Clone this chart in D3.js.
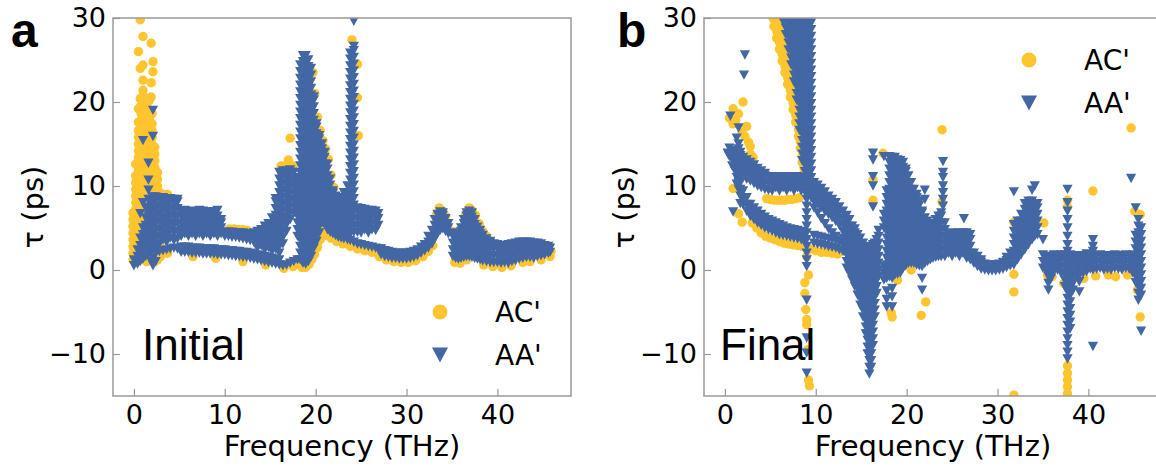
<!DOCTYPE html>
<html>
<head>
<meta charset="utf-8">
<script src="https://cdn.jsdelivr.net/npm/d3@7"></script>
<style>
  html, body { margin: 0; padding: 0; background: #fff; }
  svg { display: block; }
</style>
</head>
<body>
<svg id="chart" width="1156" height="470"></svg>
<script>
// Phonon lifetime τ (ps) versus frequency (THz).
// Each row is [frequency, τ1, τ2, ...]: every τ listed is one mode at that frequency.

const freqTicks = [0, 10, 20, 30, 40];
const tauTicks = [-10, 0, 10, 20, 30];
const seriesNames = ["AC'", "AA'"];
const panelTags = ["a", "b"];
const panelTitles = ["Initial", "Final"];

// ---- Initial structure, AC' ----
const acInitial = [
  [-0.1, 1.2, 2.0, 2.8, 3.6, 4.4, 5.2, 6.0, 6.8],
  [0.2, 1.6, 2.4, 3.2, 4.0, 4.8, 5.6, 6.4, 7.2, 8.0, 8.8, 9.6, 10.4, 11.2, 12.6],
  [0.5, 2.2, 3.0, 3.8, 4.6, 5.4, 6.2, 7.0, 7.8, 8.6, 9.4, 10.2, 11.0, 11.8, 12.6, 13.4, 14.2, 15.0, 15.8, 16.6, 17.6, 19.2, 26.0],
  [0.7, 29.8, 24.0, 20.4],
  [0.8, 2.6, 3.4, 4.2, 5.0, 5.8, 6.6, 7.4, 8.2, 9.0, 9.8, 10.6, 11.4, 12.2, 13.0, 13.8, 14.6, 15.4, 16.2, 17.0, 17.8, 18.6, 19.6, 20.5],
  [1.0, 27.8, 24.4, 22.6, 21.4],
  [1.1, 1.2, 2.0, 2.8, 3.6, 4.4, 5.2, 6.0, 6.8, 7.6, 8.4, 9.2, 10.0, 10.8, 11.6, 12.4, 13.2, 14.0, 14.8, 15.6, 16.4, 17.2, 18.0, 18.8, 19.8, 20.6],
  [1.4, 1.0, 1.8, 2.6, 3.4, 4.2, 5.0, 5.8, 6.6, 7.4, 8.2, 9.0, 9.8, 10.6, 11.4, 12.2, 13.0, 13.8, 14.6, 15.4, 16.2, 17.0, 17.8, 18.6, 19.6, 20.4],
  [1.7, 1.2, 2.0, 2.8, 3.6, 4.4, 5.2, 6.0, 6.8, 7.6, 8.4, 9.2, 10.0, 10.8, 11.6, 12.4, 13.2, 14.0, 14.8, 15.6, 16.4, 17.2, 18.0, 19.0, 20.2],
  [1.9, 27.0, 22.3, 20.6],
  [2.0, 1.4, 2.2, 3.0, 3.8, 4.6, 5.4, 6.2, 7.0, 7.8, 8.6, 9.4, 10.2, 11.0, 11.8, 12.6, 13.4, 14.2, 15.0, 15.8, 16.6, 17.4, 18.6],
  [2.1, 24.8, 23.6],
  [2.3, 1.0, 1.8, 2.6, 3.4, 4.2, 5.0, 5.8, 6.6, 7.4, 8.2, 9.0, 9.8, 10.6, 11.4, 12.2, 13.0, 13.8, 14.6],
  [2.6, 1.2, 2.0, 2.8, 3.6, 4.4, 5.2, 6.0, 6.8, 7.6, 8.4, 9.2, 10.0, 10.8, 11.6],
  [2.9, 1.6, 2.4, 3.2, 4.0, 4.8, 5.6, 6.4, 7.2, 8.0, 8.8, 9.2],
  [3.3, 2.0, 9.0],
  [3.7, 2.0, 9.0],
  [6.5, 1.6], [9.0, 1.4], [12.0, 1.0], [14.5, 0.6], [16.5, 0.2], [17.5, 0.4], [18.2, 0.6],
  [10.5, 4.9], [11.0, 4.9], [11.5, 4.8], [12.0, 4.8], [12.5, 4.7],
  [16.2, 12.4], [16.9, 12.6], [17.0, 13.1], [17.2, 15.7], [17.5, 12.4],
  [19.7, 23.5], [19.9, 21.0], [20.2, 18.2], [20.5, 16.6], [20.8, 15.4], [21.1, 14.4], [21.4, 13.2], [21.7, 11.3], [22.0, 9.8],
  [18.5, 0.3], [18.9, 0.3], [19.3, 0.7], [19.6, 1.3], [19.9, 1.9, 2.4], [20.2, 2.7, 3.2], [20.5, 3.6, 4.1], [20.8, 4.5, 5.2],
  [21.2, 4.1], [21.7, 3.8], [22.3, 3.4], [23.0, 3.1], [23.8, 2.8], [24.6, 2.5], [25.4, 2.3], [26.2, 2.1],
  [27.0, 1.6], [27.8, 1.2], [28.6, 1.0], [29.4, 0.9], [30.2, 0.9], [31.0, 1.1], [31.8, 1.6], [32.4, 2.2], [32.9, 2.9],
  [24.0, 27.4], [24.6, 24.5], [24.6, 20.5], [24.7, 16.0],
  [33.3, 6.6], [33.6, 7.4], [33.9, 7.1], [34.3, 6.4],
  [35.0, 4.6], [35.3, 4.5],
  [36.5, 6.6], [36.9, 7.4], [37.2, 7.1], [37.6, 6.5], [38.0, 5.5], [38.4, 4.6], [38.8, 4.0],
  [35.3, 0.9], [35.9, 0.8], [36.6, 1.2], [38.5, 0.6], [39.5, 0.4], [40.5, 0.3], [41.5, 0.5], [42.8, 0.9], [43.6, 1.0], [44.8, 1.2], [45.8, 1.6], [45.9, 2.2]
];

// ---- Initial structure, AA' ----
const aaInitial = [
  [0.0, 0.5, 1.2],
  [0.4, 0.7, 1.6, 2.4],
  [0.7, 1.0, 2.0, 2.9, 3.8, 6.7],
  [1.0, 1.3, 2.4, 3.3, 4.2, 5.0, 8.0, 15.4],
  [1.3, 1.6, 2.6, 3.5, 4.4, 5.3, 6.2, 7.4],
  [1.6, 1.9, 2.9, 3.8, 4.7, 5.6, 6.5, 7.4, 8.4, 9.5, 10.7, 12.7],
  [1.9, 1.0, 2.2, 3.1, 4.0, 4.9, 5.8, 6.7, 7.6, 8.4],
  [2.1, 0.5, 1.4, 2.4, 3.3, 4.2, 5.1, 6.0, 6.9, 7.8, 8.7, 15.9, 19.0],
  [2.4, 1.0, 2.0, 2.9, 3.8, 4.7, 5.6, 6.5, 7.4, 8.3, 8.7],
  [2.8, 2.2, 3.1, 4.0, 4.9, 5.8, 6.7, 7.6, 8.5],
  [3.2, 2.3, 3.6, 4.5, 5.4, 6.3, 7.2, 8.1, 8.6],
  [3.6, 2.4, 3.3, 4.2, 5.1, 6.0, 6.9, 7.8, 8.5],
  [4.0, 2.5, 3.8, 4.7, 5.6, 6.5, 7.4, 8.3, 8.5],
  [4.4, 2.6, 3.5, 4.4, 5.3, 6.2, 7.1, 8.0, 8.4],
  [4.8, 2.5, 3.7, 4.6, 5.5, 6.4, 7.3, 8.1, 8.4],
  [5.2, 2.1, 2.7, 4.0, 4.8, 5.6, 6.4, 7.0],
  [5.6, 2.1, 2.7, 4.3, 5.1, 5.9, 6.7, 7.1],
  [6.0, 2.1, 2.7, 4.0, 4.8, 5.6, 6.4, 6.9],
  [6.4, 2.0, 2.6, 4.3, 5.1, 5.9, 6.7, 7.0],
  [6.8, 2.0, 2.6, 4.0, 4.8, 5.6, 6.4, 6.9],
  [7.2, 2.0, 2.6, 4.3, 5.1, 5.9, 6.7, 7.1],
  [7.6, 1.9, 2.5, 4.0, 4.8, 5.6, 6.4, 7.0],
  [8.0, 1.9, 2.5, 4.3, 5.1, 5.9, 6.7, 6.9],
  [8.4, 1.9, 2.5, 4.0, 4.8, 5.6, 6.4, 6.9],
  [8.8, 1.9, 2.5, 4.3, 5.1, 5.9, 6.7, 6.9],
  [9.2, 1.8, 2.4, 4.0, 4.8, 5.6, 6.4, 7.1],
  [9.6, 1.8, 2.4, 4.3, 5.0, 5.6, 6.0],
  [10.0, 1.8, 2.4, 4.0, 4.5],
  [10.4, 1.7, 2.3, 4.0, 4.5],
  [10.8, 1.7, 2.3, 3.9, 4.5],
  [11.2, 1.6, 2.2, 3.9, 4.4],
  [11.6, 1.6, 2.2, 3.8, 4.4],
  [12.0, 1.5, 2.1, 3.7, 4.4],
  [12.4, 1.5, 2.1, 3.6, 4.3],
  [12.8, 1.4, 2.0, 3.5, 4.3],
  [13.2, 1.3, 1.9, 3.3, 4.1, 4.4],
  [13.6, 1.2, 1.8, 2.6, 3.4, 4.2, 4.6],
  [14.0, 1.1, 1.7, 2.9, 3.7, 4.5, 4.8],
  [14.4, 1.0, 1.6, 2.4, 3.2, 4.0, 4.8, 5.2],
  [14.8, 0.9, 1.5, 2.7, 3.5, 4.3, 5.1, 5.5],
  [15.2, 0.8, 1.4, 2.2, 3.0, 3.8, 4.6, 5.4, 6.2],
  [15.6, 0.7, 1.3, 2.5, 3.3, 4.1, 4.9, 5.7, 6.5, 7.3, 8.1, 8.5],
  [16.0, 0.6, 1.2, 2.0, 2.8, 3.6, 4.4, 5.2, 6.0, 6.8, 7.6, 8.4, 9.2, 10.0, 10.8, 11.6],
  [16.4, 0.5, 3.1, 3.9, 4.7, 5.5, 6.3, 7.1, 7.9, 8.7, 9.5, 10.3, 11.1, 11.8],
  [16.8, 0.6, 4.6, 5.4, 6.2, 7.0, 7.8, 8.6, 9.4, 10.2, 11.0, 11.8],
  [17.2, 0.8, 6.0, 6.8, 7.6, 8.4, 9.2, 10.0, 10.8, 11.6, 11.9],
  [17.6, 1.0, 6.8, 7.6, 8.4, 9.2, 10.0, 10.8, 11.6],
  [18.0, 1.2, 4.0, 4.8, 5.6, 6.4, 7.2, 8.0, 8.8, 9.6, 10.4, 11.0],
  [18.3, 1.2, 2.0, 2.8, 3.6, 4.4, 5.2, 6.0, 6.8, 7.6, 8.4, 9.2, 10.0, 10.8, 11.6, 12.4, 13.2, 14.0, 14.8, 15.6, 16.4, 17.2, 18.0, 18.8, 19.6, 20.4, 21.2, 22.0, 22.8, 23.6, 24.4],
  [18.6, 0.8, 1.6, 2.4, 3.2, 4.0, 4.8, 5.6, 6.4, 7.2, 8.0, 8.8, 9.6, 10.4, 11.2, 12.0, 12.8, 13.6, 14.4, 15.2, 16.0, 16.8, 17.6, 18.4, 19.2, 20.0, 20.8, 21.6, 22.4, 23.2, 24.0, 24.8, 25.5],
  [18.9, 0.7, 1.5, 2.3, 3.1, 3.9, 4.7, 5.5, 6.3, 7.1, 7.9, 8.7, 9.5, 10.3, 11.1, 11.9, 12.7, 13.5, 14.3, 15.1, 15.9, 16.7, 17.5, 18.3, 19.1, 19.9, 20.7, 21.5, 22.3, 23.1, 23.9, 24.7, 25.5],
  [19.2, 1.0, 1.8, 2.6, 3.4, 4.2, 5.0, 5.8, 6.6, 7.4, 8.2, 9.0, 9.8, 10.6, 11.4, 12.2, 13.0, 13.8, 14.6, 15.4, 16.2, 17.0, 17.8, 18.6, 19.4, 20.2, 21.0, 21.8, 22.6, 23.4, 24.2, 25.0],
  [19.5, 1.6, 2.4, 3.2, 4.0, 4.8, 5.6, 6.4, 7.2, 8.0, 8.8, 9.6, 10.4, 11.2, 12.0, 12.8, 13.6, 14.4, 15.2, 16.0, 16.8, 17.6, 18.4, 19.2, 20.0, 20.8, 21.6, 22.4, 23.2, 24.0],
  [19.8, 2.6, 3.4, 4.2, 5.0, 5.8, 6.6, 7.4, 8.2, 9.0, 9.8, 10.6, 11.4, 12.2, 13.0, 13.8, 14.6, 15.4, 16.2, 17.0, 17.8, 18.6, 19.4, 20.2, 20.6],
  [20.1, 3.4, 4.2, 5.0, 5.8, 6.6, 7.4, 8.2, 9.0, 9.8, 10.6, 11.4, 12.2, 13.0, 13.8, 14.6, 15.4, 16.2, 17.0, 17.4],
  [20.4, 4.4, 5.2, 6.0, 6.8, 7.6, 8.4, 9.2, 10.0, 10.8, 11.6, 12.4, 13.2, 14.0, 14.8, 15.6, 16.0],
  [20.7, 5.6, 6.4, 7.2, 8.0, 8.8, 9.6, 10.4, 11.2, 12.0, 12.8, 13.6, 14.4, 15.0],
  [21.0, 5.4, 6.2, 7.0, 7.8, 8.6, 9.4, 10.2, 11.0, 11.8, 12.6, 13.4, 14.0],
  [21.3, 4.8, 5.6, 6.4, 7.2, 8.0, 8.8, 9.6, 10.4, 11.2, 12.0, 12.6],
  [21.6, 4.5, 5.3, 6.1, 6.9, 7.7, 8.5, 9.3, 10.1, 10.8],
  [21.9, 4.3, 5.1, 5.9, 6.7, 7.5, 8.3, 9.1, 9.4],
  [22.2, 4.1, 4.9, 5.7, 6.5, 7.3, 8.1, 8.8],
  [22.5, 3.9, 4.7, 5.5, 6.3, 7.1, 7.9, 8.6],
  [22.8, 3.8, 4.6, 5.4, 6.2, 7.0, 7.8, 8.6],
  [23.1, 3.7, 4.5, 5.3, 6.1, 6.9, 7.7, 8.5, 9.2],
  [23.5, 3.6, 4.4, 5.2, 6.0, 6.8, 7.6, 8.4, 9.2, 10.0],
  [23.8, 3.5, 4.3, 5.1, 5.9, 6.7, 7.5, 8.3, 9.1, 9.9, 10.7, 11.5, 12.3, 13.1, 13.9, 14.7, 15.5, 16.3, 17.1, 17.9, 18.7, 19.5, 20.3, 21.1, 21.9, 22.7, 23.5, 24.3, 25.1, 25.8],
  [24.2, 3.3, 4.5, 5.3, 6.1, 6.9, 7.7, 8.5, 9.3, 10.1, 10.9, 11.7, 12.5, 13.3, 14.1, 14.9, 15.7, 16.5, 17.3, 18.1, 18.9, 19.7, 20.5, 21.3, 22.1, 22.9, 23.7, 24.5, 25.3, 26.1, 26.6, 29.6],
  [24.6, 3.1, 4.5, 5.3, 6.1, 6.9, 7.4],
  [25.0, 3.0, 4.4, 5.2, 6.0, 6.8, 7.3],
  [25.4, 2.9, 4.8, 5.6, 6.4, 7.2],
  [25.8, 2.8, 4.4, 5.2, 6.0, 6.8, 7.1],
  [26.2, 2.7, 4.8, 5.6, 6.4, 7.1],
  [26.6, 2.6, 4.7, 5.5, 6.3, 7.0],
  [26.9, 2.5, 5.3, 6.1, 6.7],
  [27.2, 1.8, 2.5],
  [27.6, 1.6, 2.3],
  [28.0, 1.5, 2.2],
  [28.4, 1.4, 2.1],
  [28.8, 1.4, 2.0],
  [29.2, 1.3, 2.0],
  [29.6, 1.3, 2.0],
  [30.0, 1.3, 2.0],
  [30.4, 1.4, 2.1],
  [30.8, 1.5, 2.2],
  [31.2, 1.7, 2.4],
  [31.6, 2.0, 2.7],
  [32.0, 2.3, 3.0],
  [32.4, 2.6, 3.3, 4.0],
  [32.8, 3.1, 3.9, 4.7],
  [33.1, 3.7, 4.5, 5.3, 6.0],
  [33.4, 4.3, 5.1, 5.9, 6.6],
  [33.7, 4.7, 5.5, 6.3, 6.9],
  [34.0, 4.9, 5.7, 6.5, 6.8],
  [34.3, 4.6, 5.4, 6.1],
  [34.6, 4.3, 5.0, 5.5],
  [35.1, 1.6, 2.4, 3.2, 4.0, 4.4],
  [35.4, 1.4, 2.2, 3.0, 3.8, 4.2],
  [35.7, 1.3, 2.1, 2.9, 3.7, 4.0],
  [36.0, 1.4, 2.2, 3.0, 3.8, 4.6, 5.0],
  [36.3, 1.5, 2.3, 3.1, 3.9, 4.7, 5.5, 6.0],
  [36.6, 1.6, 2.4, 3.2, 4.0, 4.8, 5.6, 6.4, 6.8],
  [36.9, 1.6, 2.4, 3.2, 4.0, 4.8, 5.6, 6.4, 7.0],
  [37.2, 1.5, 2.3, 3.1, 3.9, 4.7, 5.5, 6.3, 6.8],
  [37.5, 1.4, 2.2, 3.0, 3.8, 4.6, 5.4, 6.0],
  [37.8, 1.3, 2.1, 2.9, 3.7, 4.5, 5.1],
  [38.1, 1.2, 2.0, 2.8, 3.6, 4.3, 4.7],
  [38.4, 1.1, 1.9, 2.7, 3.5, 4.1],
  [38.8, 1.0, 1.8, 2.6, 3.4, 3.7],
  [39.2, 0.9, 1.7, 2.5, 3.2, 3.4],
  [39.6, 0.9, 1.7, 2.5, 3.1],
  [40.0, 0.9, 1.7, 2.5, 3.0],
  [40.4, 0.8, 1.6, 2.4, 2.9],
  [40.8, 0.9, 1.7, 2.5, 2.9],
  [41.2, 0.8, 1.6, 2.4, 3.0],
  [41.6, 1.0, 1.8, 2.6, 3.1],
  [42.0, 1.1, 1.9, 2.7, 3.2],
  [42.4, 1.3, 2.1, 2.8, 3.3],
  [42.8, 1.4, 2.1, 2.8, 3.3],
  [43.2, 1.5, 2.2, 2.8, 3.3],
  [43.6, 1.5, 2.2, 2.8, 3.3],
  [44.0, 1.4, 2.1, 2.7, 3.2],
  [44.4, 1.6, 2.2, 2.8, 3.2],
  [44.8, 1.7, 2.3, 2.8, 3.1],
  [45.2, 1.8, 2.4, 2.9],
  [45.6, 2.0, 2.5, 2.8],
  [45.8, 2.1, 2.6]
];

// ---- Final structure, AC' ----
const acFinal = [
  [0.5, 18.1], [0.9, 19.2, 17.4, 9.7], [1.2, 17.8], [1.5, 18.6, 10.7, 6.7], [1.9, 5.7, 16.4],
  [2.0, 20.0], [2.2, 15.9], [2.4, 17.1], [2.6, 15.2], [2.8, 14.7, 13.8], [3.1, 13.4],
  [4.6, 8.5], [5.0, 8.4], [5.4, 8.3], [5.8, 8.3], [6.2, 8.3], [6.6, 8.3], [7.0, 8.4], [7.4, 8.4], [7.8, 8.5], [8.2, 8.6],
  [3.0, 5.6], [3.5, 5.0], [4.0, 4.4], [4.5, 4.0], [5.0, 3.8], [5.5, 3.6], [6.0, 3.4], [6.5, 3.2], [7.0, 3.1], [7.5, 3.0],
  [8.0, 2.9], [8.5, 2.8], [9.4, 2.5], [10.0, 2.3], [10.6, 2.1], [11.2, 2.1], [11.8, 2.0], [12.4, 1.9],
  [5.2, 30.2],
  [5.4, 29.0, 29.8, 30.6],
  [5.7, 27.6, 28.4, 29.2, 30.0],
  [6.0, 26.3, 27.1, 27.9, 28.7, 29.5, 30.3],
  [6.3, 24.9, 25.7, 26.5, 27.3, 28.1, 28.9],
  [6.6, 23.5, 24.3, 25.1, 25.9, 26.7, 27.5],
  [6.9, 22.1, 22.9, 23.7, 24.5, 25.3, 26.1],
  [7.2, 20.6, 21.4, 22.2, 23.0, 23.8],
  [7.5, 19.1, 19.9, 20.7, 21.5, 22.3],
  [7.8, 17.6, 18.4, 19.2, 20.0],
  [8.1, 15.9, 16.7, 17.5],
  [8.3, 14.5, 15.3, 16.1],
  [8.5, 12.8, 13.6],
  [8.7, 11.6, 12.2],
  [8.8, -2.8, -1.5], [8.9, -4.7], [9.0, -5.9, -6.5, 1.6], [9.1, -9.5], [9.2, -13.1, -0.6], [9.3, -13.8],
  [16.3, 10.7, 8.3], [17.4, 13.9], [18.3, -5.1], [18.4, -5.6], [19.0, -1.2], [20.5, 0.0],
  [21.6, -5.4], [22.1, -3.8], [23.9, 16.7, 8.1],
  [31.8, 5.7, -0.5, -2.6, -14.9], [35.1, 5.6], [35.5, -0.6],
  [37.7, 8.3, 7.5, -11.4, -12.3, -13.1, -13.9, -14.7],
  [40.5, 9.4], [44.7, 16.9], [45.1, 7.0], [45.7, -5.6, 6.6],
  [36.0, -0.8], [37.3, -1.6], [39.5, -1.0], [40.8, -0.7], [42.2, -0.6], [43.0, -0.8], [44.3, -0.6], [45.4, -2.4]
];

// ---- Final structure, AA' ----
const aaFinal = [
  [0.3, 13.9],
  [0.5, 13.5, 14.5],
  [0.6, 18.3],
  [0.8, 12.4, 13.2, 14.0],
  [0.9, 6.9],
  [1.1, 11.8, 12.6, 13.4, 14.2],
  [1.3, 10.2, 11.0, 11.8, 12.6, 13.4, 14.2, 15.7],
  [1.5, 9.6, 10.4, 11.2, 12.0, 12.8, 13.6, 14.4, 15.0, 16.9],
  [1.7, 7.9, 8.8, 9.6, 10.4, 11.2, 12.0, 12.8, 13.6, 14.0],
  [2.0, 7.8, 8.6, 9.4, 11.0, 11.8, 12.6, 13.4],
  [2.1, 23.2],
  [2.2, 25.6],
  [2.4, 7.0, 7.8, 8.6, 10.8, 11.6, 12.4, 13.1],
  [2.8, 6.4, 7.2, 7.8, 10.6, 11.4, 12.2, 12.8],
  [3.2, 6.0, 6.8, 7.4, 10.3, 11.1, 11.9, 12.5],
  [3.6, 5.6, 6.4, 7.0, 10.0, 10.8, 11.6, 12.1],
  [4.0, 5.3, 6.1, 6.6, 9.8, 10.6, 11.4, 11.8],
  [4.4, 5.0, 5.8, 6.3, 9.6, 10.4, 11.2, 11.5],
  [4.8, 4.8, 5.5, 6.0, 9.5, 10.3, 11.1],
  [5.2, 4.6, 5.3, 5.8, 9.4, 10.2, 11.0],
  [5.6, 4.4, 5.1, 5.6, 9.8, 10.6, 11.1],
  [6.0, 4.2, 4.9, 5.4, 9.4, 10.2, 11.0],
  [6.4, 4.1, 4.8, 5.2, 9.8, 10.6, 11.1, 29.6, 30.4],
  [6.7, 28.0, 28.8, 29.6, 30.4],
  [6.8, 4.0, 4.7, 5.0, 9.4, 10.2, 11.0],
  [7.0, 26.2, 27.0, 27.8, 28.6, 29.4, 30.2],
  [7.2, 3.9, 4.6, 4.9, 9.8, 10.6, 11.1],
  [7.3, 24.4, 25.2, 26.0, 26.8, 27.6, 28.4, 29.2, 30.0],
  [7.6, 3.8, 4.5, 4.8, 9.4, 10.2, 11.0, 22.4, 23.2, 24.0, 24.8, 25.6, 26.4, 27.2, 28.0, 28.8, 29.6, 30.4],
  [7.9, 20.2, 21.0, 21.8, 22.6, 23.4, 24.2, 25.0, 25.8, 26.6, 27.4, 28.2, 29.0, 29.8],
  [8.0, 3.7, 4.4, 4.7, 9.8, 10.6, 11.1],
  [8.2, 16.6, 17.4, 18.2, 19.0, 19.8, 20.6, 21.4, 22.2, 23.0, 23.8, 24.6, 25.4, 26.2, 27.0, 27.8, 28.6, 29.4, 30.2],
  [8.4, 3.6, 4.3, 4.6, 9.4, 10.2, 11.0],
  [8.5, 13.0, 13.8, 14.6, 15.4, 16.2, 17.0, 17.8, 18.6, 19.4, 20.2, 21.0, 21.8, 22.6, 23.4, 24.2, 25.0, 25.8, 26.6, 27.4, 28.2, 29.0, 29.8],
  [8.8, 3.5, 4.3, 9.3, 10.1, 10.9, 11.7, 12.5, 13.3, 14.1, 14.9, 15.7, 16.5, 17.3, 18.1, 18.9, 19.7, 20.5, 21.3, 22.1, 22.9, 23.7, 24.5, 25.3, 26.1, 26.9, 27.7, 28.5, 29.3, 30.1],
  [9.0, -12.3, -9.9, -8.1, -3.6, 0.4, 1.2, 2.0, 2.8, 3.6, 4.4, 5.2, 6.0, 6.8, 7.6, 8.4],
  [9.2, 9.0, 9.8, 10.6, 11.4, 12.2, 13.0, 13.8, 14.6, 15.4, 16.2, 17.0, 17.8, 18.6, 19.4, 20.2, 21.0, 21.8, 22.6, 23.4, 24.2, 25.0, 25.8, 26.6, 27.4, 28.2, 29.0, 29.8, 30.5],
  [9.5, 8.6, 9.4, 10.2, 11.0, 11.8, 12.6, 13.4, 14.2, 15.0, 15.8, 16.6, 17.4, 18.2, 19.0, 19.8, 20.6, 21.4, 22.2, 23.0, 23.8, 24.6, 25.4, 26.2, 27.0, 27.8, 28.6, 29.4, 30.2],
  [9.8, 3.2, 4.1, 7.4, 8.2, 9.0, 9.8, 10.4],
  [10.2, 3.1, 4.0, 6.8, 7.8, 8.6, 9.4, 10.1],
  [10.6, 3.0, 3.9, 6.1, 7.4, 8.2, 9.0, 9.7],
  [11.0, 2.9, 3.8, 5.5, 7.0, 7.8, 8.6, 9.3],
  [11.4, 2.8, 3.7, 4.9, 6.6, 7.4, 8.2, 8.8],
  [11.8, 2.7, 3.6, 4.4, 6.2, 7.0, 7.8, 8.4],
  [12.2, 2.6, 3.5, 4.0, 5.8, 6.6, 7.4, 8.0],
  [12.6, 2.4, 3.3, 5.3, 6.1, 6.9, 7.5],
  [13.0, 2.2, 3.0, 3.8, 4.6, 5.4, 6.2, 7.0],
  [13.4, 0.2, 1.0, 1.8, 2.6, 3.4, 4.2, 5.0, 5.8, 6.5],
  [13.7, -0.4, 0.4, 1.2, 2.0, 2.8, 3.6, 4.4, 5.2, 6.0],
  [14.0, -1.2, -0.4, 0.4, 1.2, 2.0, 2.8, 3.6, 4.4, 5.2],
  [14.3, -2.0, -1.2, -0.4, 0.4, 1.2, 2.0, 2.8, 3.6, 4.4, 4.9],
  [14.6, -3.0, -2.2, -1.4, -0.6, 0.2, 1.0, 1.8, 2.6, 3.4, 4.2],
  [14.9, -4.2, -3.4, -2.6, -1.8, -1.0, -0.2, 0.6, 1.4, 2.2, 3.0, 3.8],
  [15.2, -5.6, -4.8, -4.0, -3.2, -2.4, -1.6, -0.8, 0.0, 0.8, 1.6, 2.4, 3.2],
  [15.5, -7.6, -6.8, -6.0, -5.2, -4.4, -3.6, -2.8, -2.0, -1.2, -0.4, 0.4, 1.2, 2.0, 2.8],
  [15.7, -10.0, -9.2, -8.4, -7.6, -6.8, -6.0, -5.2, -4.4, -3.6, -2.8, -2.0, -1.2, -0.4, 0.4, 1.2, 2.0, 2.7],
  [15.9, -12.4, -11.6, -10.8, -10.0, -9.2, -8.4, -7.6, -6.8, -6.0, -5.2, -4.4, -3.6, -2.8, -2.0, -1.2, -0.4, 0.4, 1.2, 2.0, 2.6],
  [16.1, -11.6, -10.8, -10.0, -9.2, -8.4, -7.6, -6.8, -6.0, -5.2, -4.4, -3.6, -2.8, -2.0, -1.2, -0.4, 0.4, 1.2, 2.0, 2.6],
  [16.3, -9.0, -8.2, -7.4, -6.6, -5.8, -5.0, -4.2, -3.4, -2.6, -1.8, -1.0, -0.2, 0.6, 1.4, 2.2, 3.0, 7.5, 10.0, 11.1, 13.1, 13.9],
  [16.5, -5.6, -4.8, -4.0, -3.2, -2.4, -1.6, -0.8, 0.0, 0.8, 1.6, 2.4, 3.2],
  [16.7, -2.8, -2.0, -1.2, -0.4, 0.4, 1.2, 2.0, 2.8, 3.6],
  [16.9, -0.8, 0.0, 0.8, 1.6, 2.4, 3.2, 4.0, 4.7],
  [17.5, -1.2, -0.4, 0.4, 5.0, 5.8, 6.6, 13.5],
  [17.8, -4.4, -3.5, -2.5, -1.0, -0.2, 0.6, 1.4, 2.2, 3.0, 3.8, 4.6, 5.4, 6.2, 7.0, 7.8, 8.6, 9.4],
  [18.1, -0.8, 0.0, 0.8, 1.6, 2.4, 3.2, 4.0, 4.8, 5.6, 6.4, 7.2, 8.0, 8.8, 9.6, 10.4, 11.2, 12.0, 12.8, 13.5],
  [18.4, -4.4, -3.2, -2.2, -1.0, -0.2, 0.6, 1.4, 2.2, 3.0, 3.8, 4.6, 5.4, 6.2, 7.0, 7.8, 8.6, 9.4, 10.2, 11.0, 11.8, 12.6, 13.4],
  [18.7, -0.6, 0.2, 1.0, 1.8, 2.6, 3.4, 4.2, 5.0, 5.8, 6.6, 7.4, 8.2, 9.0, 9.8, 10.6, 11.4, 12.2, 13.0, 13.4],
  [19.0, -0.5, 0.3, 1.1, 1.9, 2.7, 3.5, 4.3, 5.1, 5.9, 6.7, 7.5, 8.3, 9.1, 9.9, 10.7, 11.5, 12.3, 13.1],
  [19.3, -0.4, 0.4, 1.2, 2.0, 2.8, 3.6, 4.4, 5.2, 6.0, 6.8, 7.6, 8.4, 9.2, 10.0, 10.8, 11.6, 12.4, 13.0],
  [19.6, 0.2, 1.0, 1.8, 2.6, 3.4, 4.2, 5.0, 5.8, 6.6, 7.4, 8.2, 9.0, 9.8, 10.6, 11.4, 12.2, 12.8],
  [19.9, 0.5, 1.3, 2.1, 2.9, 3.7, 4.5, 5.3, 6.1, 6.9, 7.7, 8.5, 9.3, 10.1, 10.9, 11.7, 12.0],
  [20.2, 0.8, 1.6, 2.4, 3.2, 4.0, 4.8, 5.6, 6.4, 7.2, 8.0, 8.8, 9.6, 10.4, 11.2],
  [20.5, 0.8, 1.6, 2.4, 3.2, 4.0, 4.8, 5.6, 6.4, 7.2, 8.0, 8.8, 9.6, 10.4],
  [20.8, 0.8, 1.6, 2.4, 3.2, 4.0, 4.8, 5.6, 6.4, 7.2, 8.0, 8.8, 9.6],
  [21.1, 0.6, 1.4, 2.2, 3.0, 3.8, 4.6, 5.4, 6.2, 7.0, 7.8, 8.6, 9.0],
  [21.4, 0.5, 1.3, 2.1, 2.9, 3.7, 4.5, 5.3, 6.1, 6.9, 7.7, 8.2],
  [21.7, -2.4, -1.0, 0.4, 1.2, 2.0, 2.8, 3.6, 4.4, 5.2, 6.0, 6.8, 7.0],
  [22.0, 0.8, 1.6, 2.4, 3.2, 4.0, 4.8, 5.6, 6.2, 8.4, 9.5],
  [22.3, 1.0, 1.8, 2.6, 3.4, 4.2, 5.0, 5.8],
  [22.6, 1.2, 2.0, 2.8, 3.6, 4.4, 5.2, 5.4],
  [22.9, 1.4, 2.2, 3.0, 3.8, 4.6, 5.2],
  [23.2, 1.5, 2.3, 3.1, 3.9, 4.7, 5.5, 6.0],
  [23.5, 1.6, 2.4, 3.2, 4.0, 4.8, 5.6, 6.4],
  [23.8, 1.6, 2.4, 3.2, 4.0, 4.8, 5.6, 6.4, 6.8],
  [24.0, 7.6, 8.4, 9.2, 10.0, 11.0, 11.6, 12.9],
  [24.2, 1.6, 2.4, 3.2, 4.0, 4.8, 5.6],
  [24.6, 2.0, 2.8, 3.6, 4.3],
  [25.0, 1.6, 2.4, 3.2, 3.9, 4.4],
  [25.4, 2.0, 2.8, 3.6, 4.3],
  [25.8, 1.6, 2.4, 3.2, 3.9, 4.4],
  [26.2, 2.0, 2.8, 3.6, 4.4],
  [26.3, 6.1],
  [26.6, 1.4, 2.2, 3.0, 3.8, 4.4],
  [27.0, 1.2, 2.0, 2.8, 3.6, 4.2],
  [27.4, 0.8, 1.6, 2.0],
  [27.8, 0.4, 1.2, 1.6],
  [28.2, 0.1, 0.9, 1.2],
  [28.6, 0.0, 0.7],
  [29.0, -0.1, 0.6],
  [29.4, -0.1, 0.6],
  [29.8, -0.1, 0.6],
  [30.2, 0.0, 0.7],
  [30.6, 0.1, 0.9],
  [31.0, 0.3, 1.1, 1.5],
  [31.4, 0.5, 1.3, 2.0],
  [31.8, 0.6, 1.4, 2.2, 3.0, 3.8, 4.6, 5.4, 9.3],
  [32.2, 1.2, 2.0, 2.8, 3.6, 4.4, 5.2, 5.8],
  [32.6, 1.8, 2.6, 3.4, 4.2, 5.0, 5.8, 6.6],
  [33.0, 2.4, 3.2, 4.0, 4.8, 5.6, 6.4, 7.2, 7.9],
  [33.4, 3.0, 3.8, 4.6, 5.4, 6.2, 7.0, 7.8, 8.2],
  [33.8, 3.6, 4.4, 5.2, 6.0, 6.8, 7.6, 8.2, 9.5],
  [34.1, 4.0, 4.8, 5.6, 6.4, 7.2, 7.9, 10.0],
  [34.4, 4.2, 5.0, 5.8, 6.6, 7.4, 7.9],
  [35.0, 0.2, 1.0, 1.8, 3.6],
  [35.3, 0.0, 0.8, 1.6],
  [35.6, -2.4, -1.6, -0.8, 0.0, 0.8, 1.6],
  [35.9, -1.0, -0.2, 0.6, 1.4],
  [36.2, -0.2, 0.6, 1.4, 1.8],
  [36.6, 0.0, 0.8, 1.6],
  [37.0, -0.4, 0.4, 1.2, 1.8],
  [37.4, -2.0, -1.2, -0.4, 0.4, 1.2, 1.8],
  [37.7, -10.6, -9.8, -9.0, -8.2, -7.4, -6.6, -5.8, -5.0, -4.2, -3.4, -2.6, -1.8, -1.0, -0.2, 0.6, 1.4, 2.2, 3.0, 4.0, 5.0, 6.0, 7.0, 8.0, 9.6],
  [38.0, -7.0, -6.2, -5.4, -4.6, -3.8, -3.0, -2.2, -1.4, -0.6, 0.2, 1.0, 1.8],
  [38.3, -2.4, -1.6, -0.8, 0.0, 0.8, 1.6],
  [38.7, -0.8, 0.0, 0.8, 1.6],
  [39.0, -2.6, -1.4, -0.6, 0.2, 1.0, 1.7],
  [39.4, -0.4, 0.4, 1.2, 1.7],
  [39.8, -0.2, 0.6, 1.4, 1.9],
  [40.2, 0.1, 0.9, 1.7],
  [40.5, -9.1, 0.0, 0.8, 1.6, 2.2, 2.8, 3.6],
  [40.9, 0.1, 0.9, 1.7],
  [41.3, 0.2, 1.0, 1.8],
  [41.7, 0.0, 0.8, 1.6],
  [42.1, 0.1, 0.9, 1.7],
  [42.5, 0.0, 0.8, 1.6],
  [42.9, 0.2, 1.0, 1.8],
  [43.3, 0.1, 0.9, 1.7],
  [43.7, 0.0, 0.8, 1.6],
  [44.1, 0.2, 1.0, 1.8],
  [44.5, 0.1, 0.9, 1.7],
  [44.7, 10.9],
  [44.9, -0.4, 0.4, 1.2, 1.8],
  [45.2, -1.5, -0.7, 0.1, 0.9, 1.7, 2.5, 3.3, 4.1, 7.4],
  [45.5, -3.6, -2.8, -2.0, -1.2, -0.4, 0.4, 1.2, 2.0, 2.8, 3.6, 4.4, 5.2, 6.0],
  [45.8, -7.3, -3.0, -2.2, -1.4, -0.6, 0.2, 1.0, 1.8, 2.6, 3.4, 4.2, 5.0]
];

// ---- drawing ----
const COLOR_AC = "#fec52e";
const COLOR_AA = "#4367a4";
const AXIS_GREY = "#999999";
const SANS = "'DejaVu Sans', sans-serif";
const ARIAL = "'Liberation Sans', Arial, sans-serif";

const W = 458, H = 378, TOP = 18;
const x = d3.scaleLinear().domain([-2.3, 48.1]).range([0, W]);
const y = d3.scaleLinear().domain([-15, 30]).range([H, 0]);

const toPoints = rows => rows.flatMap(([f, ...taus]) => taus.map(t => [f, t]));
const triPath = (w, h) => `M${-w / 2},${-h / 2}L${w / 2},${-h / 2}L0,${h / 2}Z`;

const panels = [
  { left: 113, ac: acInitial, aa: aaInitial, tag: panelTags[0], tagX: 11, title: panelTitles[0], titleX: 142,
    legendX: 327, legendY: 294 },
  { left: 704, ac: acFinal, aa: aaFinal, tag: panelTags[1], tagX: 617, title: panelTitles[1], titleX: 720,
    legendX: 325, legendY: 42 }
];

const svg = d3.select("#chart");

panels.forEach(p => {
  const g = svg.append("g").attr("transform", `translate(${p.left},${TOP})`);

  const clipId = `clip-${p.tag}`;
  g.append("clipPath").attr("id", clipId)
    .append("rect").attr("width", W).attr("height", H);

  const plot = g.append("g").attr("clip-path", `url(#${clipId})`);

  plot.append("g").selectAll("circle")
    .data(toPoints(p.ac)).join("circle")
    .attr("cx", d => x(d[0])).attr("cy", d => y(d[1]))
    .attr("r", 4.7).attr("fill", COLOR_AC);

  const tri = triPath(10.2, 9.4);
  plot.append("g").selectAll("path")
    .data(toPoints(p.aa)).join("path")
    .attr("transform", d => `translate(${x(d[0])},${y(d[1])})`)
    .attr("d", tri).attr("fill", COLOR_AA);

  // frame
  g.append("rect").attr("width", W).attr("height", H)
    .attr("fill", "none").attr("stroke", AXIS_GREY).attr("stroke-width", 1.5);

  // axes with inward ticks
  const xAxis = g.append("g").attr("transform", `translate(0,${H})`)
    .call(d3.axisBottom(x).tickValues(freqTicks).tickSizeInner(-7).tickSizeOuter(0).tickPadding(9));
  const yAxis = g.append("g")
    .call(d3.axisLeft(y).tickValues(tauTicks).tickSizeInner(-7).tickSizeOuter(0).tickPadding(7)
      .tickFormat(d => d < 0 ? "\u2212" + Math.abs(d) : String(d)));
  [xAxis, yAxis].forEach(a => {
    a.select(".domain").remove();
    a.attr("font-family", SANS).attr("font-size", 27);
    a.selectAll(".tick line").attr("stroke", AXIS_GREY).attr("stroke-width", 1.2);
    a.selectAll(".tick text").attr("fill", "#000");
  });

  // axis titles
  g.append("text").attr("x", W / 2).attr("y", 456 - TOP)
    .attr("text-anchor", "middle").attr("font-family", SANS).attr("font-size", 29)
    .text("Frequency (THz)");
  g.append("text")
    .attr("transform", `translate(${43 - 113},${H / 2}) rotate(-90)`)
    .attr("text-anchor", "middle").attr("font-family", SANS).attr("font-size", 29)
    .text("\u03c4 (ps)");

  // structure label inside the plot
  svg.append("text").attr("x", p.titleX).attr("y", 360)
    .attr("font-family", ARIAL).attr("font-size", 44).text(p.title);

  // panel tag
  svg.append("text").attr("x", p.tagX).attr("y", 47)
    .attr("font-family", ARIAL).attr("font-weight", "bold").attr("font-size", 48).text(p.tag);

  // legend
  const lg = g.append("g").attr("transform", `translate(${p.legendX},${p.legendY})`);
  lg.append("circle").attr("cx", 0).attr("cy", 0).attr("r", 7.5).attr("fill", COLOR_AC);
  lg.append("text").attr("x", 55).attr("y", 9.5)
    .attr("font-family", SANS).attr("font-size", 28).text(seriesNames[0]);
  lg.append("path").attr("transform", "translate(0,43)").attr("d", triPath(16, 15)).attr("fill", COLOR_AA);
  lg.append("text").attr("x", 55).attr("y", 52.5)
    .attr("font-family", SANS).attr("font-size", 28).text(seriesNames[1]);
});
</script>
</body>
</html>
